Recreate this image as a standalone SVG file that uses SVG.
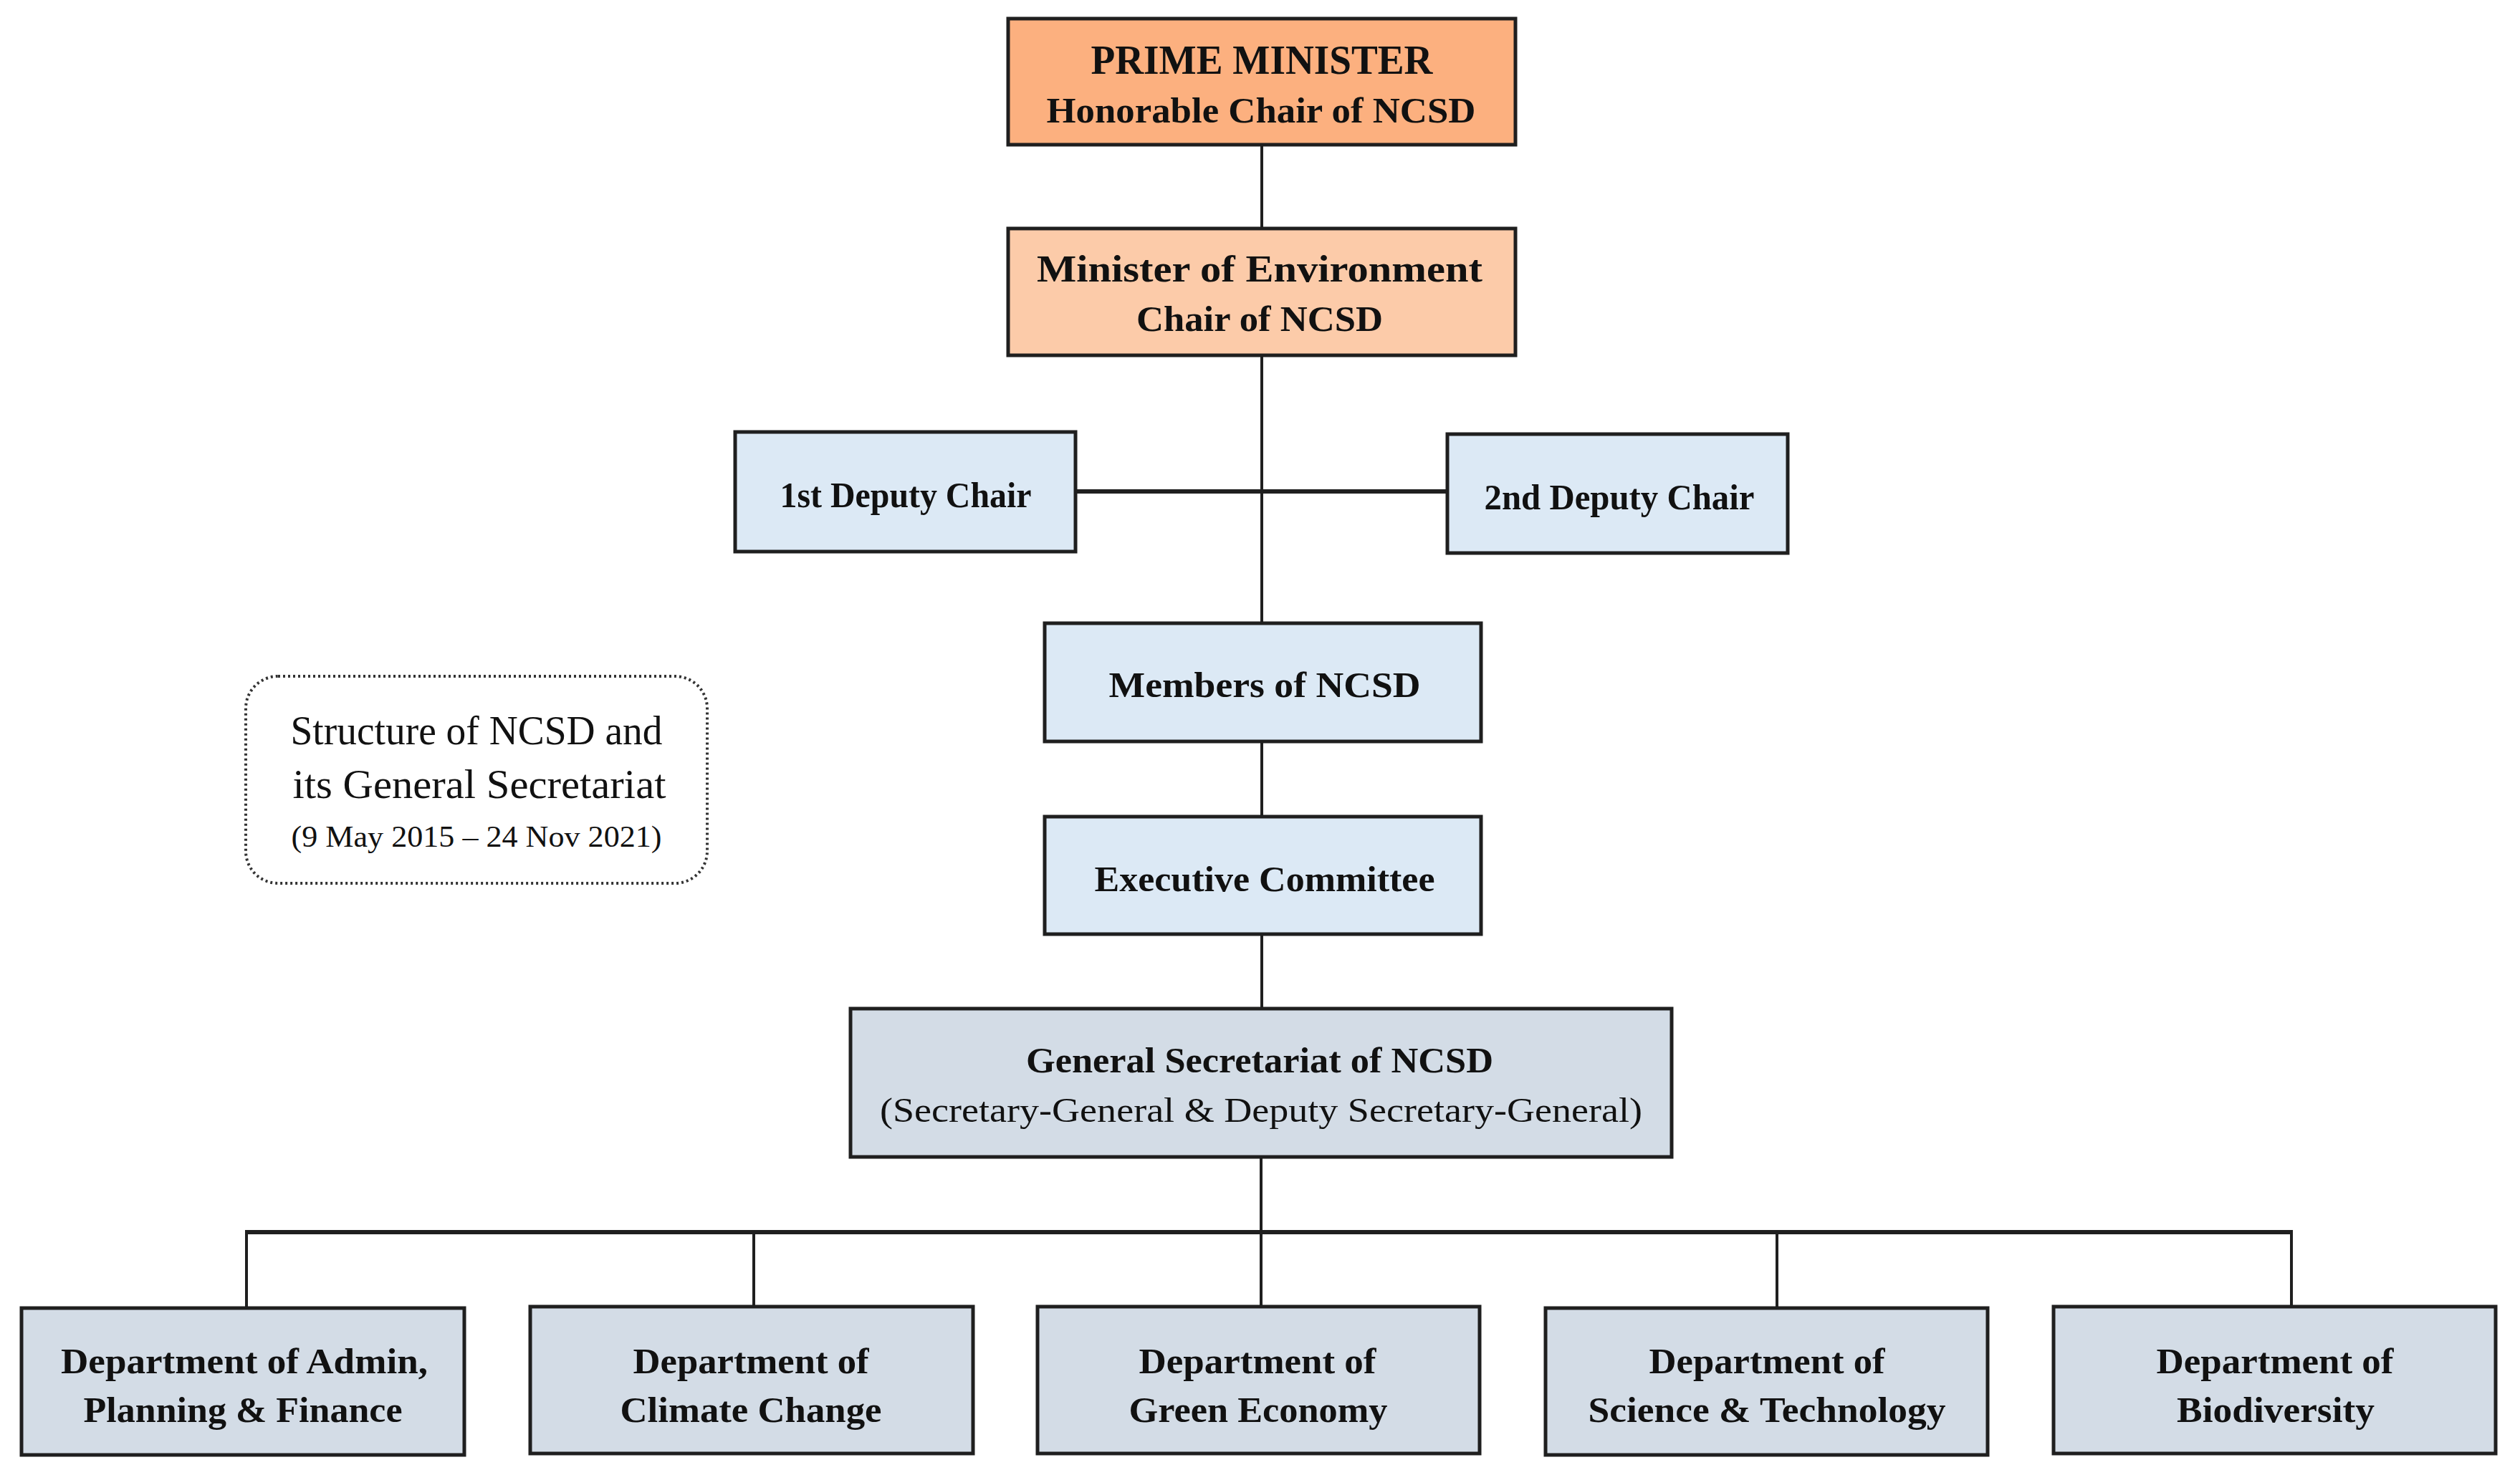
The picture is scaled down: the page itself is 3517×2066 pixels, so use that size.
<svg xmlns="http://www.w3.org/2000/svg" width="3517" height="2066" viewBox="0 0 3517 2066">
<style>
.box{stroke:#1f1f1f;stroke-width:5}
.pm{fill:#FCB07F}
.min{fill:#FCCBA9}
.lb{fill:#DCE9F5}
.gb{fill:#D3DCE6}
.t{font-family:"Liberation Serif","Times New Roman",serif;fill:#111;text-anchor:middle}
.b{font-weight:bold}
.c{stroke:#1f1f1f;stroke-width:4;fill:none}
.ct{stroke:#1f1f1f;stroke-width:6;fill:none}
</style>
<rect width="3517" height="2066" fill="#ffffff"/>
<g id="connectors">
<line class="c" x1="1761" y1="202" x2="1761" y2="319"/>
<line class="c" x1="1761" y1="497" x2="1761" y2="869"/>
<line class="ct" x1="1501" y1="686" x2="2019" y2="686"/>
<line class="c" x1="1761" y1="1035" x2="1761" y2="1139"/>
<line class="c" x1="1761" y1="1304" x2="1761" y2="1407"/>
<line class="c" x1="1760" y1="1615" x2="1760" y2="1826"/>
<line class="ct" x1="342" y1="1720" x2="3200" y2="1720"/>
<line class="c" x1="344" y1="1720" x2="344" y2="1826"/>
<line class="c" x1="1052" y1="1720" x2="1052" y2="1824"/>
<line class="c" x1="2480" y1="1720" x2="2480" y2="1826"/>
<line class="c" x1="3198" y1="1720" x2="3198" y2="1824"/>
</g>
<g id="prime-minister">
<rect class="box pm" x="1407" y="26" width="708" height="176"/>
<text class="t b" x="1761" y="103" font-size="56" textLength="477" lengthAdjust="spacingAndGlyphs">PRIME MINISTER</text>
<text class="t b" x="1760" y="171" font-size="50" textLength="599" lengthAdjust="spacingAndGlyphs">Honorable Chair of NCSD</text>
</g>
<g id="minister-environment">
<rect class="box min" x="1407" y="319" width="708" height="177"/>
<text class="t b" x="1758" y="393" font-size="52" textLength="622" lengthAdjust="spacingAndGlyphs">Minister of Environment</text>
<text class="t b" x="1758" y="462" font-size="50" textLength="344" lengthAdjust="spacingAndGlyphs">Chair of NCSD</text>
</g>
<g id="first-deputy">
<rect class="box lb" x="1026" y="603" width="475" height="167"/>
<text class="t b" x="1264" y="708" font-size="50" textLength="351" lengthAdjust="spacingAndGlyphs">1st Deputy Chair</text>
</g>
<g id="second-deputy">
<rect class="box lb" x="2020" y="606" width="475" height="166"/>
<text class="t b" x="2260" y="711" font-size="50" textLength="377" lengthAdjust="spacingAndGlyphs">2nd Deputy Chair</text>
</g>
<g id="members">
<rect class="box lb" x="1458" y="870" width="609" height="165"/>
<text class="t b" x="1765" y="973" font-size="51" textLength="435" lengthAdjust="spacingAndGlyphs">Members of NCSD</text>
</g>
<g id="executive-committee">
<rect class="box lb" x="1458" y="1140" width="609" height="164"/>
<text class="t b" x="1765" y="1244" font-size="51" textLength="475" lengthAdjust="spacingAndGlyphs">Executive Committee</text>
</g>
<g id="general-secretariat">
<rect class="box gb" x="1187" y="1408" width="1146" height="207"/>
<text class="t b" x="1758" y="1497" font-size="50" textLength="652" lengthAdjust="spacingAndGlyphs">General Secretariat of NCSD</text>
<text class="t" x="1760" y="1566" font-size="48" textLength="1064" lengthAdjust="spacingAndGlyphs">(Secretary-General &amp; Deputy Secretary-General)</text>
</g>
<g id="dept-admin">
<rect class="box gb" x="30" y="1826" width="618" height="205"/>
<text class="t b" x="341" y="1917" font-size="50" textLength="512" lengthAdjust="spacingAndGlyphs">Department of Admin,</text>
<text class="t b" x="339" y="1985" font-size="50" textLength="445" lengthAdjust="spacingAndGlyphs">Planning &amp; Finance</text>
</g>
<g id="dept-climate">
<rect class="box gb" x="740" y="1824" width="618" height="205"/>
<text class="t b" x="1048" y="1917" font-size="50" textLength="329" lengthAdjust="spacingAndGlyphs">Department of</text>
<text class="t b" x="1048" y="1985" font-size="50" textLength="365" lengthAdjust="spacingAndGlyphs">Climate Change</text>
</g>
<g id="dept-green">
<rect class="box gb" x="1448" y="1824" width="617" height="205"/>
<text class="t b" x="1755" y="1917" font-size="50" textLength="331" lengthAdjust="spacingAndGlyphs">Department of</text>
<text class="t b" x="1756" y="1985" font-size="50" textLength="361" lengthAdjust="spacingAndGlyphs">Green Economy</text>
</g>
<g id="dept-science">
<rect class="box gb" x="2157" y="1826" width="617" height="205"/>
<text class="t b" x="2466" y="1917" font-size="50" textLength="329" lengthAdjust="spacingAndGlyphs">Department of</text>
<text class="t b" x="2466" y="1985" font-size="50" textLength="499" lengthAdjust="spacingAndGlyphs">Science &amp; Technology</text>
</g>
<g id="dept-biodiversity">
<rect class="box gb" x="2866" y="1824" width="617" height="205"/>
<text class="t b" x="3175" y="1917" font-size="50" textLength="331" lengthAdjust="spacingAndGlyphs">Department of</text>
<text class="t b" x="3176" y="1985" font-size="50" textLength="276" lengthAdjust="spacingAndGlyphs">Biodiversity</text>
</g>
<g id="legend">
<rect x="343" y="944" width="644" height="289" rx="45" ry="45" fill="none" stroke="#333" stroke-width="4" stroke-dasharray="3 4"/>
<text class="t" x="665" y="1039" font-size="56" textLength="519" lengthAdjust="spacingAndGlyphs">Structure of NCSD and</text>
<text class="t" x="669" y="1114" font-size="56" textLength="521" lengthAdjust="spacingAndGlyphs">its General Secretariat</text>
<text class="t" x="665" y="1182" font-size="42" textLength="517" lengthAdjust="spacingAndGlyphs">(9 May 2015 – 24 Nov 2021)</text>
</g>
</svg>
